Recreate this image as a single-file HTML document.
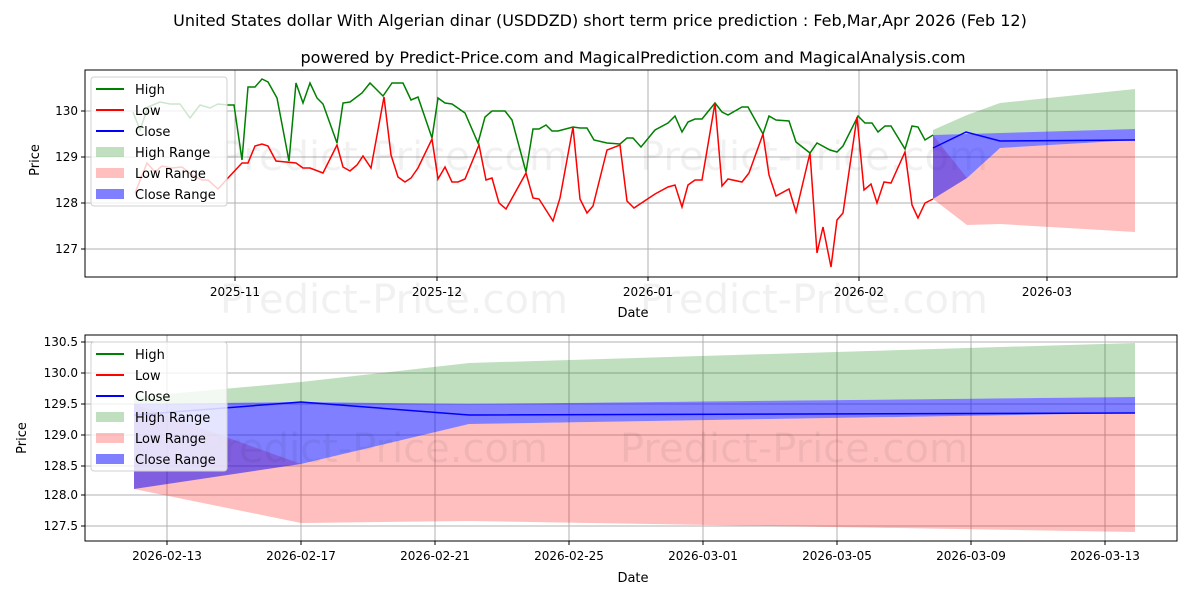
<!DOCTYPE html>
<html><head><meta charset="utf-8"><style>
body{margin:0;background:#fff;}
svg{display:block;font-family:"DejaVu Sans","Liberation Sans",sans-serif;}
</style></head><body>
<svg width="1200" height="600" viewBox="0 0 1200 600" xmlns="http://www.w3.org/2000/svg">
<rect width="1200" height="600" fill="#fff"/>
<text x="600" y="26" font-size="16" text-anchor="middle">United States dollar With Algerian dinar (USDDZD) short term price prediction : Feb,Mar,Apr 2026 (Feb 12)</text>
<text x="633" y="63" font-size="16" text-anchor="middle">powered by Predict-Price.com and MagicalPrediction.com and MagicalAnalysis.com</text>

<!-- TOP CHART -->
<g stroke="#b0b0b0" stroke-width="1">
<line x1="235" y1="70" x2="235" y2="277"/><line x1="437" y1="70" x2="437" y2="277"/><line x1="648" y1="70" x2="648" y2="277"/><line x1="859" y1="70" x2="859" y2="277"/><line x1="1047" y1="70" x2="1047" y2="277"/>
<line x1="85" y1="111" x2="1177" y2="111"/><line x1="85" y1="157" x2="1177" y2="157"/><line x1="85" y1="203" x2="1177" y2="203"/><line x1="85" y1="249" x2="1177" y2="249"/>
</g>
<g font-size="40" fill="#000" opacity="0.05"><text x="220" y="170">Predict-Price.com</text><text x="640" y="170">Predict-Price.com</text><text x="220" y="313">Predict-Price.com</text><text x="640" y="313">Predict-Price.com</text></g>
<polygon points="933,130 967,115 1000,103 1135,89 1135,129 1000,133 933,135" fill="#008000" opacity="0.25"/>
<polygon points="933,135 967,178 1000,148 1135,140 1135,232 1000,224 967,225 933,199" fill="#ff0000" opacity="0.25"/>
<polygon points="933,135 1000,133 1135,129 1135,140 1000,148 967,178 933,199" fill="#0000ff" opacity="0.5"/>
<polyline fill="none" stroke="#008000" stroke-width="1.5" points="133,112 140,130 148,107 160,102 170,104 180,104 190,118 200,105 210,108 218,104 228,105 234,105 242,160 248,87 255,87 262,79 268,82 277,98 289,161 296,83 303,103 310,83 317,98 323,104 337,143 343,103 350,102 362,93 370,83 383,96 392,83 403,83 411,100 418,97 432,138 438,98 445,103 452,104 465,113 478,143 485,117 492,111 505,111 512,120 526,172 533,129 539,129 546,125 552,131 558,131 573,127 580,128 587,128 594,140 607,143 620,144 627,138 633,138 641,147 655,130 668,123 675,116 682,132 688,122 695,119 702,119 715,103 722,112 728,115 742,107 748,107 763,134 769,116 776,120 789,121 796,142 810,153 817,143 830,150 837,152 843,146 858,116 865,123 872,123 878,132 885,126 891,126 905,149 912,126 918,127 925,140 933,135"/>
<polyline fill="none" stroke="#ff0000" stroke-width="1.5" points="135,193 147,163 155,172 162,166 172,168 182,167 192,175 202,180 208,180 218,189 228,178 242,163 248,163 255,146 262,144 268,146 276,161 296,163 303,168 310,168 323,173 337,145 343,167 350,171 357,165 363,156 371,168 384,97 391,155 398,177 405,182 411,178 418,168 432,139 438,179 445,167 452,182 458,182 465,179 479,145 486,180 492,178 499,203 506,209 526,173 533,198 539,199 553,221 560,198 573,127 580,199 587,213 593,206 607,150 620,145 627,201 634,208 655,194 668,187 675,185 682,207 688,185 695,180 702,180 715,103 722,186 728,179 742,182 749,173 763,134 769,175 776,196 789,189 796,212 810,153 817,253 823,227 831,267 837,220 843,213 857,117 864,190 871,184 877,203 884,182 891,183 905,152 912,205 918,218 925,203 933,199"/>
<polyline fill="none" stroke="#0000ff" stroke-width="1.5" points="933,148 966,132 1000,141 1135,140"/>
<rect x="85" y="70" width="1092" height="207" fill="none" stroke="#000" stroke-width="1"/>
<g stroke="#000"><line x1="235" y1="277" x2="235" y2="281"/><line x1="437" y1="277" x2="437" y2="281"/><line x1="648" y1="277" x2="648" y2="281"/><line x1="859" y1="277" x2="859" y2="281"/><line x1="1047" y1="277" x2="1047" y2="281"/>
<line x1="81" y1="111" x2="85" y2="111"/><line x1="81" y1="157" x2="85" y2="157"/><line x1="81" y1="203" x2="85" y2="203"/><line x1="81" y1="249" x2="85" y2="249"/></g>
<g font-size="12" text-anchor="middle"><text x="235" y="296">2025-11</text><text x="437" y="296">2025-12</text><text x="648" y="296">2026-01</text><text x="859" y="296">2026-02</text><text x="1047" y="296">2026-03</text><text x="633" y="317" font-size="13">Date</text></g>
<g font-size="12" text-anchor="end"><text x="78" y="115">130</text><text x="78" y="161">129</text><text x="78" y="207">128</text><text x="78" y="253">127</text></g>
<text x="39" y="160" font-size="13" text-anchor="middle" transform="rotate(-90 39 160)">Price</text>
<g>
<rect x="91" y="77" width="136" height="129" rx="3" fill="#fff" fill-opacity="0.8" stroke="#d0d0d0"/>
<line x1="96" y1="89" x2="124" y2="89" stroke="#008000" stroke-width="2"/>
<line x1="96" y1="110" x2="124" y2="110" stroke="#ff0000" stroke-width="2"/>
<line x1="96" y1="131" x2="124" y2="131" stroke="#0000ff" stroke-width="2"/>
<rect x="96" y="147" width="28" height="10" fill="#008000" opacity="0.25"/>
<rect x="96" y="168" width="28" height="10" fill="#ff0000" opacity="0.25"/>
<rect x="96" y="189" width="28" height="10" fill="#0000ff" opacity="0.5"/>
<g font-size="13"><text x="135" y="94">High</text><text x="135" y="115">Low</text><text x="135" y="136">Close</text><text x="135" y="157">High Range</text><text x="135" y="178">Low Range</text><text x="135" y="199">Close Range</text></g>
</g>

<!-- BOTTOM CHART -->
<g stroke="#b0b0b0" stroke-width="1">
<line x1="167" y1="335" x2="167" y2="541"/><line x1="301" y1="335" x2="301" y2="541"/><line x1="435" y1="335" x2="435" y2="541"/><line x1="569" y1="335" x2="569" y2="541"/><line x1="703" y1="335" x2="703" y2="541"/><line x1="837" y1="335" x2="837" y2="541"/><line x1="971" y1="335" x2="971" y2="541"/><line x1="1105" y1="335" x2="1105" y2="541"/>
<line x1="85" y1="342" x2="1177" y2="342"/><line x1="85" y1="373" x2="1177" y2="373"/><line x1="85" y1="404" x2="1177" y2="404"/><line x1="85" y1="435" x2="1177" y2="435"/><line x1="85" y1="466" x2="1177" y2="466"/><line x1="85" y1="495" x2="1177" y2="495"/><line x1="85" y1="526" x2="1177" y2="526"/>
</g>
<polygon points="134,397 301,382 469,363 1135,343 1135,397 469,404 301,402 134,404" fill="#008000" opacity="0.25"/>
<polygon points="134,404 301,464 469,424 1135,413 1135,532 469,521 301,523 134,489" fill="#ff0000" opacity="0.25"/>
<polygon points="134,404 301,402 469,404 1135,397 1135,413 469,424 301,464 134,489" fill="#0000ff" opacity="0.5"/>
<g font-size="40" fill="#000" opacity="0.05"><text x="200" y="462">Predict-Price.com</text><text x="620" y="462">Predict-Price.com</text></g>
<polyline fill="none" stroke="#0000ff" stroke-width="1.5" points="134,415 301,402 469,415 1135,413"/>
<rect x="85" y="335" width="1092" height="206" fill="none" stroke="#000" stroke-width="1"/>
<g stroke="#000"><line x1="167" y1="541" x2="167" y2="545"/><line x1="301" y1="541" x2="301" y2="545"/><line x1="435" y1="541" x2="435" y2="545"/><line x1="569" y1="541" x2="569" y2="545"/><line x1="703" y1="541" x2="703" y2="545"/><line x1="837" y1="541" x2="837" y2="545"/><line x1="971" y1="541" x2="971" y2="545"/><line x1="1105" y1="541" x2="1105" y2="545"/>
<line x1="81" y1="342" x2="85" y2="342"/><line x1="81" y1="373" x2="85" y2="373"/><line x1="81" y1="404" x2="85" y2="404"/><line x1="81" y1="435" x2="85" y2="435"/><line x1="81" y1="466" x2="85" y2="466"/><line x1="81" y1="495" x2="85" y2="495"/><line x1="81" y1="526" x2="85" y2="526"/></g>
<g font-size="12" text-anchor="middle"><text x="167" y="560">2026-02-13</text><text x="301" y="560">2026-02-17</text><text x="435" y="560">2026-02-21</text><text x="569" y="560">2026-02-25</text><text x="703" y="560">2026-03-01</text><text x="837" y="560">2026-03-05</text><text x="971" y="560">2026-03-09</text><text x="1105" y="560">2026-03-13</text><text x="633" y="582" font-size="13">Date</text></g>
<g font-size="12" text-anchor="end"><text x="78" y="346">130.5</text><text x="78" y="377">130.0</text><text x="78" y="408">129.5</text><text x="78" y="439">129.0</text><text x="78" y="470">128.5</text><text x="78" y="499">128.0</text><text x="78" y="530">127.5</text></g>
<text x="26" y="438" font-size="13" text-anchor="middle" transform="rotate(-90 26 438)">Price</text>
<g>
<rect x="91" y="342" width="136" height="129" rx="3" fill="#fff" fill-opacity="0.8" stroke="#d0d0d0"/>
<line x1="96" y1="354" x2="124" y2="354" stroke="#008000" stroke-width="2"/>
<line x1="96" y1="375" x2="124" y2="375" stroke="#ff0000" stroke-width="2"/>
<line x1="96" y1="396" x2="124" y2="396" stroke="#0000ff" stroke-width="2"/>
<rect x="96" y="412" width="28" height="10" fill="#008000" opacity="0.25"/>
<rect x="96" y="433" width="28" height="10" fill="#ff0000" opacity="0.25"/>
<rect x="96" y="454" width="28" height="10" fill="#0000ff" opacity="0.5"/>
<g font-size="13"><text x="135" y="359">High</text><text x="135" y="380">Low</text><text x="135" y="401">Close</text><text x="135" y="422">High Range</text><text x="135" y="443">Low Range</text><text x="135" y="464">Close Range</text></g>
</g>
</svg>
</body></html>
